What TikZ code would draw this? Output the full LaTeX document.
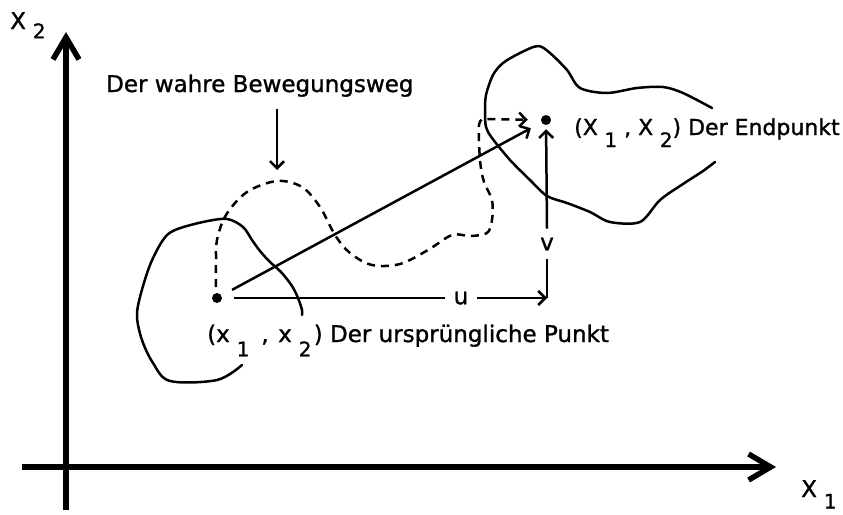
\documentclass[tikz,border=0pt]{standalone}
\usepackage{fontspec}
\setmainfont{DejaVu Sans}[RawFeature={embolden=1.2}]
\usetikzlibrary{arrows.meta}
\newcommand\lowsub[2][0.62em]{\hspace{0.3em}\raisebox{-#1}{\fontsize{20}{20}\selectfont #2}}
\begin{document}
\begin{tikzpicture}[x=1pt,y=-1pt,line join=round,
  axisline/.style={line width=5.5pt,-{Straight Barb[length=22pt,width=26pt,line width=5.5pt]}},
  thinl/.style={line width=2.5pt},
  arr/.style={thinl,-{Straight Barb[length=7pt,width=14pt,line width=2.5pt]}},
  dsh/.style={line width=2.5pt,dash pattern=on 8pt off 6pt},
  lbl/.style={font=\fontsize{23}{27}\selectfont,inner sep=0pt},
  dotn/.style={circle,fill,inner sep=0pt,minimum size=10pt},
  blob/.style={line width=2.5pt,line cap=round}]
\useasboundingbox (0,0) rectangle (843,514);
% axes
\coordinate (ybot) at (66,510);
\coordinate (ytop) at (66,32);
\coordinate (xleft) at (22,467);
\coordinate (xright) at (776,467);
\draw[axisline] (ybot) -- (ytop);
\draw[axisline] (xleft) -- (xright);
\node[lbl,anchor=base west] (xtwo) at (10,29) {X\lowsub[0.4em]{2}};
\node[lbl,anchor=base west] (xone) at (801,497) {X\lowsub[0.5em]{1}};
% points
\node[dotn] (S) at (217,298) {};
\node[dotn] (E) at (546,120) {};
\coordinate (C) at (547,298);
% blobs
\draw[blob] plot[smooth,tension=0.55] coordinates {(242,365) (217,380) (170,381) (153,363) (142,340) (137,317) (140,297) (150,265) (163,240) (175,230) (203,222) (227,219) (243,227) (252,240) (260,251) (270,262) (281,272) (292,286) (298,298) (302,310) (302,315)};
\draw[blob] plot[smooth,tension=0.5] coordinates {(712,108) (683,93) (663,87) (637,88) (607,93) (580,88) (567,70) (550,53) (538,46) (520,53) (503,63) (493,75) (486,95) (485,112) (486,127) (492,138) (510,160) (530,180) (547,196) (567,203) (590,212) (610,222) (640,222) (660,200) (683,184) (703,171) (715,162)};
% labels
\node[lbl,anchor=base west] (start) at (207,342) {(x\lowsub{1}\hspace{0.2em} , \hspace{0.1em}x\lowsub{2}\hspace{0.1em}) Der ursprüngliche Punkt};
\node[lbl,anchor=base west,font=\fontsize{22}{26}\selectfont] (end) at (574,135) {(X\lowsub[0.55em]{1} , X\lowsub[0.55em]{2}) Der Endpunkt};
\node[lbl,anchor=base west] (path) at (106,92) {Der wahre Bewegungsweg};
\coordinate (pk) at (277,170);
\draw[arr] ([yshift=-12pt]path.south -| pk) -- (pk);
% true path (dashed)
\draw[dsh,-{Straight Barb[length=7pt,width=14pt,line width=2.5pt]},shorten >=13pt] plot[smooth,tension=0.55] coordinates {(216,287) (216,262) (217,240) (226,215) (247,192) (277,181) (302,187) (320,207) (335,235) (350,253) (372,265) (400,264) (428,250) (452,235) (470,236) (487,233) (492,220) (492,200) (484,182) (480,160) (479,125) (484,119)} -- (E);
% displacement vectors
\node[lbl,inner xsep=9pt] (ulab) at (461,298) {u};
\draw[thinl,shorten <=12pt] (S) -- (ulab.west);
\draw[arr] (ulab.east) -- (C);
\node[lbl,inner ysep=9pt] (vlab) at (547,244) {v};
\draw[thinl] (C) -- (vlab.south);
\draw[arr,shorten >=4pt] (vlab.north) -- (E);
\draw[arr,shorten <=12pt,shorten >=12pt] (S) -- (E);
\end{tikzpicture}
\end{document}
